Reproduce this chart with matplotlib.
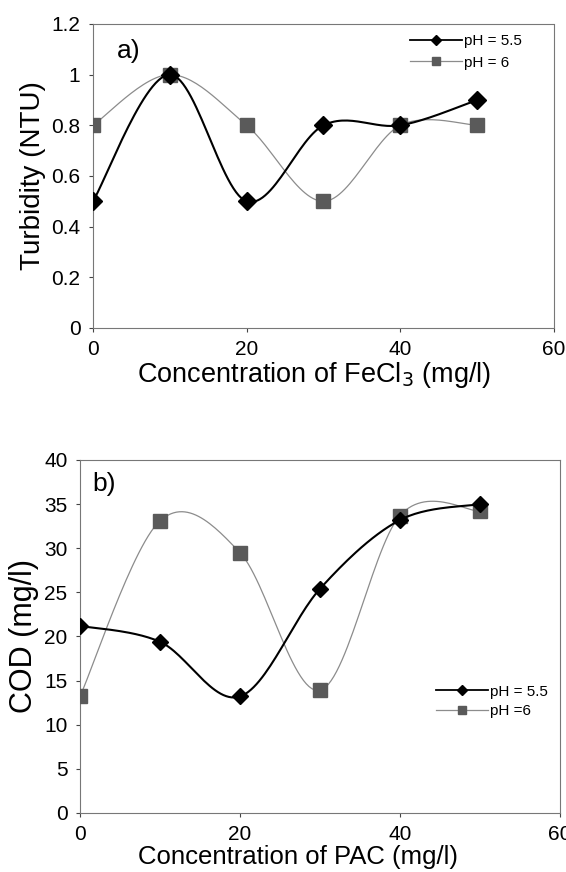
import numpy as np
import matplotlib
matplotlib.use('Agg')
import matplotlib.pyplot as plt
from matplotlib.lines import Line2D

plt.rcParams['font.family'] = ['Liberation Sans', 'DejaVu Sans']

# data
conc = [0, 10, 20, 30, 40, 50]
turb_ph55 = [0.5, 1.0, 0.5, 0.8, 0.8, 0.9]
turb_ph6 = [0.8, 1.0, 0.8, 0.5, 0.8, 0.8]
cod_ph55 = [21.2, 19.4, 13.2, 25.4, 33.2, 35.0]
cod_ph6 = [13.2, 33.1, 29.5, 13.9, 33.7, 34.2]
legend_a = ['pH = 5.5', 'pH = 6']
legend_b = ['pH = 5.5', 'pH =6']


def smooth(x, y, n=30):
    # Excel style smoothed line (bezier through the points)
    x = np.asarray(x, float)
    y = np.asarray(y, float)
    px = np.concatenate([[x[0]], x, [x[-1]]])
    py = np.concatenate([[y[0]], y, [y[-1]]])
    xs, ys = [], []
    t = np.linspace(0, 1, n)[:, None]
    for i in range(1, len(px) - 2):
        p0, p1, p2, p3 = (np.array([px[j], py[j]]) for j in (i - 1, i, i + 1, i + 2))
        c1 = p1 + (p2 - p0) / 6
        c2 = p2 - (p3 - p1) / 6
        pts = (1 - t) ** 3 * p1 + 3 * (1 - t) ** 2 * t * c1 + 3 * (1 - t) * t ** 2 * c2 + t ** 3 * p2
        xs.extend(pts[:, 0])
        ys.extend(pts[:, 1])
    return xs, ys


def draw(ax, y1, y2, labels, ylim, ystep, ylabel, xlabel, tag, tag_pos, leg_anchor, ms,
         ylab_size, xlab_size, xlab_x, leg_space):
    sx, sy = smooth(conc, y2)
    ax.plot(sx, sy, color='#8c8c8c', lw=0.9, zorder=2)
    ax.plot(conc, y2, ls='none', marker='s', ms=ms + 1.5, color='#5a5a5a', zorder=3)
    sx, sy = smooth(conc, y1)
    ax.plot(sx, sy, color='black', lw=1.5, zorder=4)
    ax.plot(conc, y1, ls='none', marker='D', ms=ms, color='black', zorder=5)

    ax.set_xlim(0, 60)
    ax.set_ylim(*ylim)
    ax.set_xticks([0, 20, 40, 60])
    ticks = np.round(np.arange(ylim[0], ylim[1] + ystep / 2, ystep), 1)
    ax.set_yticks(ticks)
    ax.set_yticklabels(['%g' % v for v in ticks])
    ax.tick_params(direction='out', length=3, width=0.8, labelsize=15, colors='#444444',
                   labelcolor='black', pad=6)
    for s in ax.spines.values():
        s.set_color('#777777')
        s.set_linewidth(0.8)
        s.set_linestyle((0, (4, 1)))
    ax.set_ylabel(ylabel, fontsize=ylab_size, labelpad=4)
    ax.set_xlabel(xlabel, fontsize=xlab_size, labelpad=1)
    ax.xaxis.set_label_coords(xlab_x, -0.105 if ylim[1] < 5 else -0.09)
    ax.text(tag_pos[0], tag_pos[1], tag, transform=ax.transAxes, fontsize=19, va='top')

    handles = [Line2D([], [], color='black', lw=1.3, marker='D', ms=5),
               Line2D([], [], color='#8c8c8c', lw=0.9, marker='s', ms=6,
                      mfc='#5a5a5a', mec='#5a5a5a')]
    ax.legend(handles, labels, loc='upper left', bbox_to_anchor=leg_anchor, frameon=False,
              fontsize=11, handlelength=3.4, handletextpad=0.15, labelspacing=leg_space,
              borderaxespad=0, borderpad=0)


fig = plt.figure(figsize=(5.66, 8.72), dpi=100)
ax1 = fig.add_axes([0.1643, 0.6239, 0.8145, 0.3486])
ax2 = fig.add_axes([0.1413, 0.0677, 0.848, 0.4048])

draw(ax1, turb_ph55, turb_ph6, legend_a, (0, 1.2), 0.2, 'Turbidity (NTU)',
     'Concentration of FeCl$_3$ (mg/l)', 'a)', (0.052, 0.95), (0.688, 0.967), 9,
     20, 19.5, 0.48, 0.5)
draw(ax2, cod_ph55, cod_ph6, legend_b, (0, 40), 5, 'COD (mg/l)',
     'Concentration of PAC (mg/l)', 'b)', (0.025, 0.965), (0.742, 0.363), 8,
     22, 18.5, 0.455, 0.35)

fig.savefig('out.png', dpi=100)
